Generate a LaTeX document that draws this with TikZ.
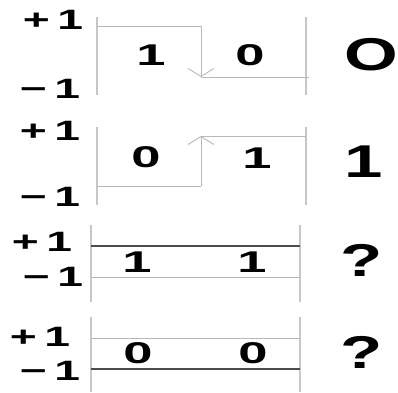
\documentclass[tikz,border=0pt]{standalone}
\usepackage{fontspec}
\setmainfont{Liberation Sans}
\usetikzlibrary{arrows.meta}

\tikzset{
  lvl/.style={font=\fontsize{28}{28}\selectfont\bfseries,xscale=1.65,transform shape,inner sep=0pt},
  bit/.style={font=\fontsize{30}{30}\selectfont\bfseries,xscale=1.75,transform shape,inner sep=0pt},
  res/.style={font=\fontsize{46}{46}\selectfont\bfseries,xscale=1.5,transform shape,inner sep=0pt},
  axis/.style={black!22,line width=1.3pt},
  wave/.style={black!28,line width=.9pt},
  level/.style={black!70,line width=1.1pt},
  tip/.style={-{Straight Barb[length=8pt,width=26pt]}}
}

\begin{document}
\begin{tikzpicture}[x=1pt,y=1pt]
\useasboundingbox (0,0) rectangle (398,-392);
\node[lvl] (p1hi) at (53,-20) {+\,1};
\node[lvl] (p1lo) at (50,-89) {−\,1};
\draw[axis] (97,-17) -- (97,-95);
\draw[axis] (306,-17) -- (306,-95);
\draw[wave] (97,-26) -- (201,-26);
\draw[wave,tip] (201,-26) -- (201,-77);
\draw[wave] (201,-77) -- (309,-77);
\node[bit] (p1a) at (151,-55) {1};
\node[bit] (p1b) at (250,-55) {0};
\node[res] (p1r) at (371,-55) {O};
\node[lvl] (p2hi) at (50,-131) {+\,1};
\node[lvl] (p2lo) at (50,-197) {−\,1};
\draw[axis] (97,-127) -- (97,-205);
\draw[axis] (306,-127) -- (306,-205);
\draw[wave] (97,-186) -- (201,-186);
\draw[wave,tip] (201,-186) -- (201,-136);
\draw[wave] (201,-136) -- (306,-136);
\node[bit] (p2a) at (146,-157) {0};
\node[bit] (p2b) at (257,-158) {1};
\node[res] (p2r) at (364,-162) {1};
\node[lvl] (p3hi) at (42,-242) {+\,1};
\node[lvl] (p3lo) at (53,-277) {−\,1};
\draw[axis] (91,-225) -- (91,-302);
\draw[axis] (300,-225) -- (300,-302);
\draw[level] (91,-246) -- (300,-246);
\draw[wave] (91,-277) -- (300,-277);
\node[bit] (p3a) at (137,-262) {1};
\node[bit] (p3b) at (252,-262) {1};
\node[res] (p3r) at (362,-260) {?};
\node[lvl] (p4hi) at (40,-337) {+\,1};
\node[lvl] (p4lo) at (50,-371) {−\,1};
\draw[axis] (91,-317) -- (91,-392);
\draw[axis] (300,-317) -- (300,-392);
\draw[wave] (91,-338) -- (300,-338);
\draw[level] (91,-369) -- (300,-369);
\node[bit] (p4a) at (138,-353) {0};
\node[bit] (p4b) at (253,-353) {0};
\node[res] (p4r) at (362,-352) {?};
\end{tikzpicture}
\end{document}
